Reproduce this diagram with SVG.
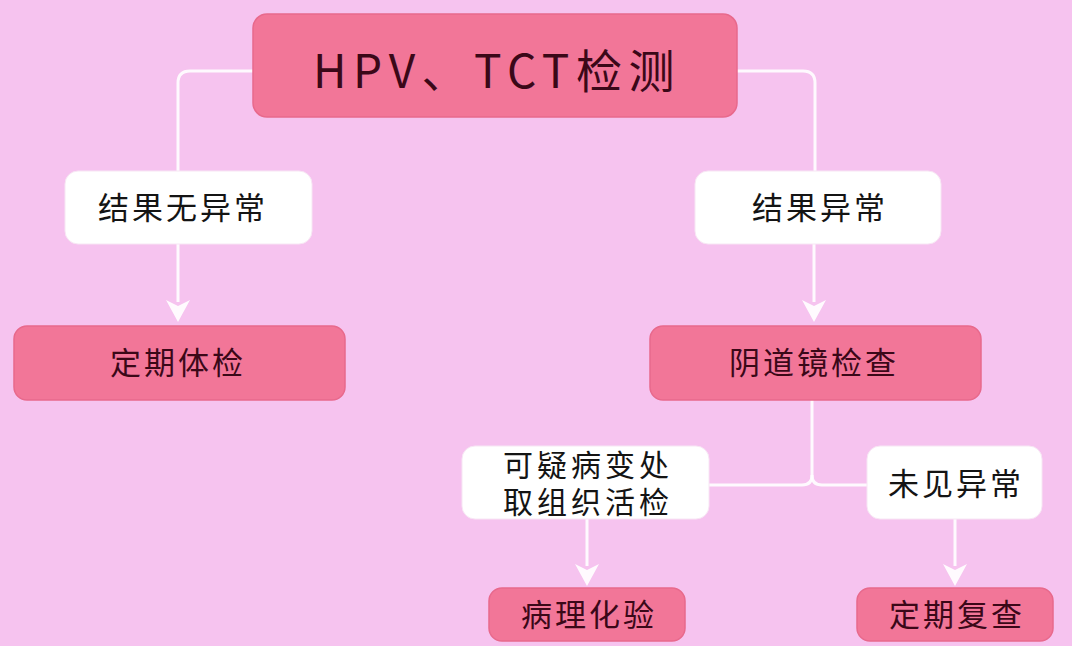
<svg xmlns="http://www.w3.org/2000/svg" width="1072" height="646" viewBox="0 0 1072 646">
<defs>
<style>
.pink{fill:#f27698;stroke:#e8698c;stroke-width:1.5}
.white{fill:#ffffff;stroke:#f7e6f4;stroke-width:1}
.t{font-family:"Noto Sans CJK SC","Noto Sans",sans-serif;font-size:31px;letter-spacing:3px;text-anchor:middle}
.t2{font-size:30px;letter-spacing:4px}
.tp{fill:#3b0818}
.tw{fill:#141414}
.line{fill:none;stroke:#ffffff;stroke-opacity:0.9;stroke-width:3}
.head{fill:#ffffff;fill-opacity:0.92}
</style>
</defs>
<rect width="1072" height="646" fill="#f6c3ef"/>
<g id="connectors">
<path class="line" d="M253,71 H190 Q178,71 178,83 V172"/>
<path class="line" d="M737,71 H803 Q815,71 815,83 V172"/>
<path class="line" d="M178,244 V302"/>
<polygon class="head" points="166,300 178,306 190,300 178,322"/>
<path class="line" d="M814,244 V302"/>
<polygon class="head" points="802,300 814,306 826,300 814,322"/>
<path class="line" d="M812,400 V475 Q812,485 802,485 H709"/>
<path class="line" d="M812,475 Q812,485 822,485 H867"/>
<path class="line" d="M587,519 V566"/>
<polygon class="head" points="575,564 587,570 599,564 587,586"/>
<path class="line" d="M955,519 V566"/>
<polygon class="head" points="943,564 955,570 967,564 955,586"/>
</g>
<g id="n-top">
<rect class="pink" x="253" y="14" width="484" height="103" rx="14"/>
<text class="tp" x="497" y="88" style="font-family:'Noto Sans CJK SC','Noto Sans',sans-serif;font-size:46px;letter-spacing:6.5px;text-anchor:middle">HPV、TCT检测</text>
</g>
<g id="n-normal">
<rect class="white" x="65" y="171" width="247" height="73" rx="13"/>
<text class="t tw" x="183" y="219">结果无异常</text>
</g>
<g id="n-abnormal">
<rect class="white" x="695" y="171" width="246" height="73" rx="13"/>
<text class="t tw" x="820" y="219">结果异常</text>
</g>
<g id="n-checkup">
<rect class="pink" x="14" y="326" width="331" height="74" rx="13"/>
<text class="t tp" x="178" y="374">定期体检</text>
</g>
<g id="n-colpo">
<rect class="pink" x="650" y="326" width="331" height="74" rx="13"/>
<text class="t tp" x="814" y="374">阴道镜检查</text>
</g>
<g id="n-biopsy">
<rect class="white" x="462" y="446" width="247" height="73" rx="13"/>
<text class="t t2 tw" x="588" y="476">可疑病变处</text>
<text class="t t2 tw" x="588" y="513">取组织活检</text>
</g>
<g id="n-none">
<rect class="white" x="867" y="446" width="175" height="73" rx="13"/>
<text class="t tw" x="956" y="495">未见异常</text>
</g>
<g id="n-patho">
<rect class="pink" x="489" y="588" width="196" height="53" rx="13"/>
<text class="t tp" x="589" y="626">病理化验</text>
</g>
<g id="n-review">
<rect class="pink" x="857" y="588" width="196" height="53" rx="13"/>
<text class="t tp" x="957" y="626">定期复查</text>
</g>
</svg>
